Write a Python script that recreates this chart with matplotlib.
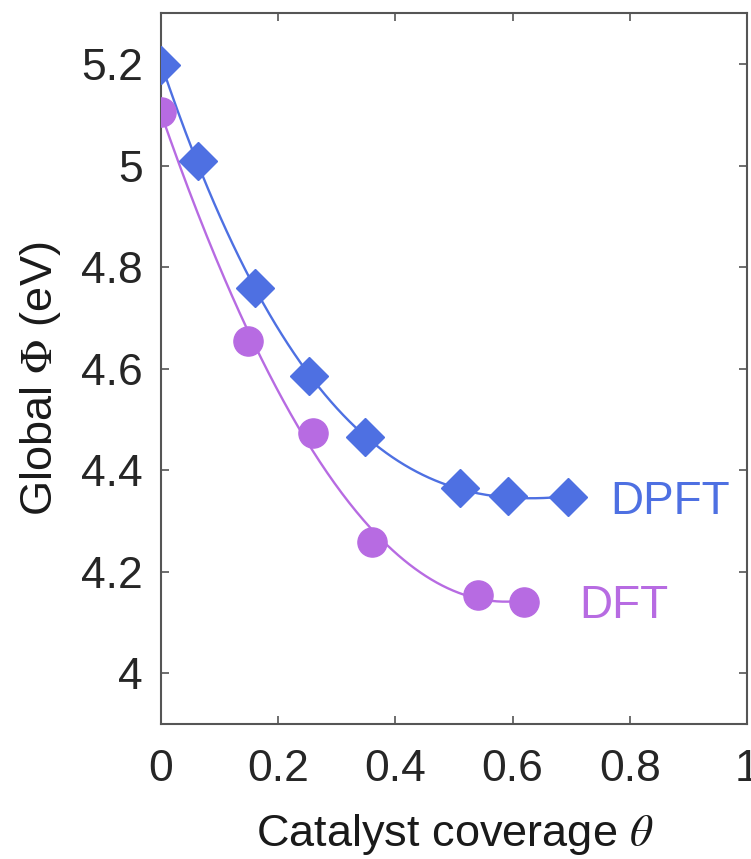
import numpy as np
import matplotlib
matplotlib.use("Agg")
from matplotlib import pyplot as plt

plt.rcParams['font.family'] = ['Liberation Sans', 'DejaVu Sans']
plt.rcParams['mathtext.fontset'] = 'stix'

# data
dpft_theta = [0.0, 0.063, 0.160, 0.253, 0.348, 0.510, 0.592, 0.695]
dpft_phi = [5.198, 5.009, 4.760, 4.586, 4.465, 4.364, 4.349, 4.347]
dft_theta = [0.0, 0.149, 0.259, 0.360, 0.541, 0.620]
dft_phi = [5.106, 4.655, 4.473, 4.258, 4.155, 4.141]

x_ticks = [0, 0.2, 0.4, 0.6, 0.8, 1]
x_labels = ['0', '0.2', '0.4', '0.6', '0.8', '1']
y_ticks = [4.0, 4.2, 4.4, 4.6, 4.8, 5.0, 5.2]
y_labels = ['4', '4.2', '4.4', '4.6', '4.8', '5', '5.2']

blue = '#4E70E2'
purple = '#B76BE2'

fig = plt.figure(figsize=(7.51, 8.59), dpi=100)
ax = fig.add_axes([0.2144, 0.1572, 0.7803, 0.8271])

# smooth trend lines (polynomial fit of each series)
for xs, ys, color in [(dpft_theta, dpft_phi, blue), (dft_theta, dft_phi, purple)]:
    coef = np.polyfit(xs, ys, 3)
    xx = np.linspace(min(xs), max(xs), 200)
    ax.plot(xx, np.polyval(coef, xx), color=color, lw=1.7, zorder=2)

ax.plot(dpft_theta, dpft_phi, ls='none', marker='D', ms=19, color=blue, zorder=3)
ax.plot(dft_theta, dft_phi, ls='none', marker='o', ms=21, color=purple, zorder=3)

ax.text(0.766, 4.337, 'DPFT', color=blue, fontsize=33, va='center', ha='left')
ax.text(0.713, 4.133, 'DFT', color=purple, fontsize=33, va='center', ha='left')

ax.set_xlim(0, 1)
ax.set_ylim(3.9, 5.3)
ax.set_xticks(x_ticks)
ax.set_xticklabels(x_labels)
ax.set_yticks(y_ticks)
ax.set_yticklabels(y_labels)
ax.tick_params(direction='in', top=True, right=True, length=6, width=1.2,
               color='#555555', labelsize=32, labelcolor='#262626')
ax.tick_params(axis='x', pad=18)
ax.tick_params(axis='y', pad=13)
for s in ax.spines.values():
    s.set_color('#555555')
    s.set_linewidth(1.5)

ax.set_xlabel(r'Catalyst coverage $\theta$', fontsize=32.5, color='#1a1a1a')
ax.set_ylabel(r'Global $\Phi$ (eV)', fontsize=32.5, color='#1a1a1a')
ax.xaxis.set_label_coords(0.502, -0.124)
ax.yaxis.set_label_coords(-0.167, 0.486)

fig.savefig('out.png', dpi=100)
